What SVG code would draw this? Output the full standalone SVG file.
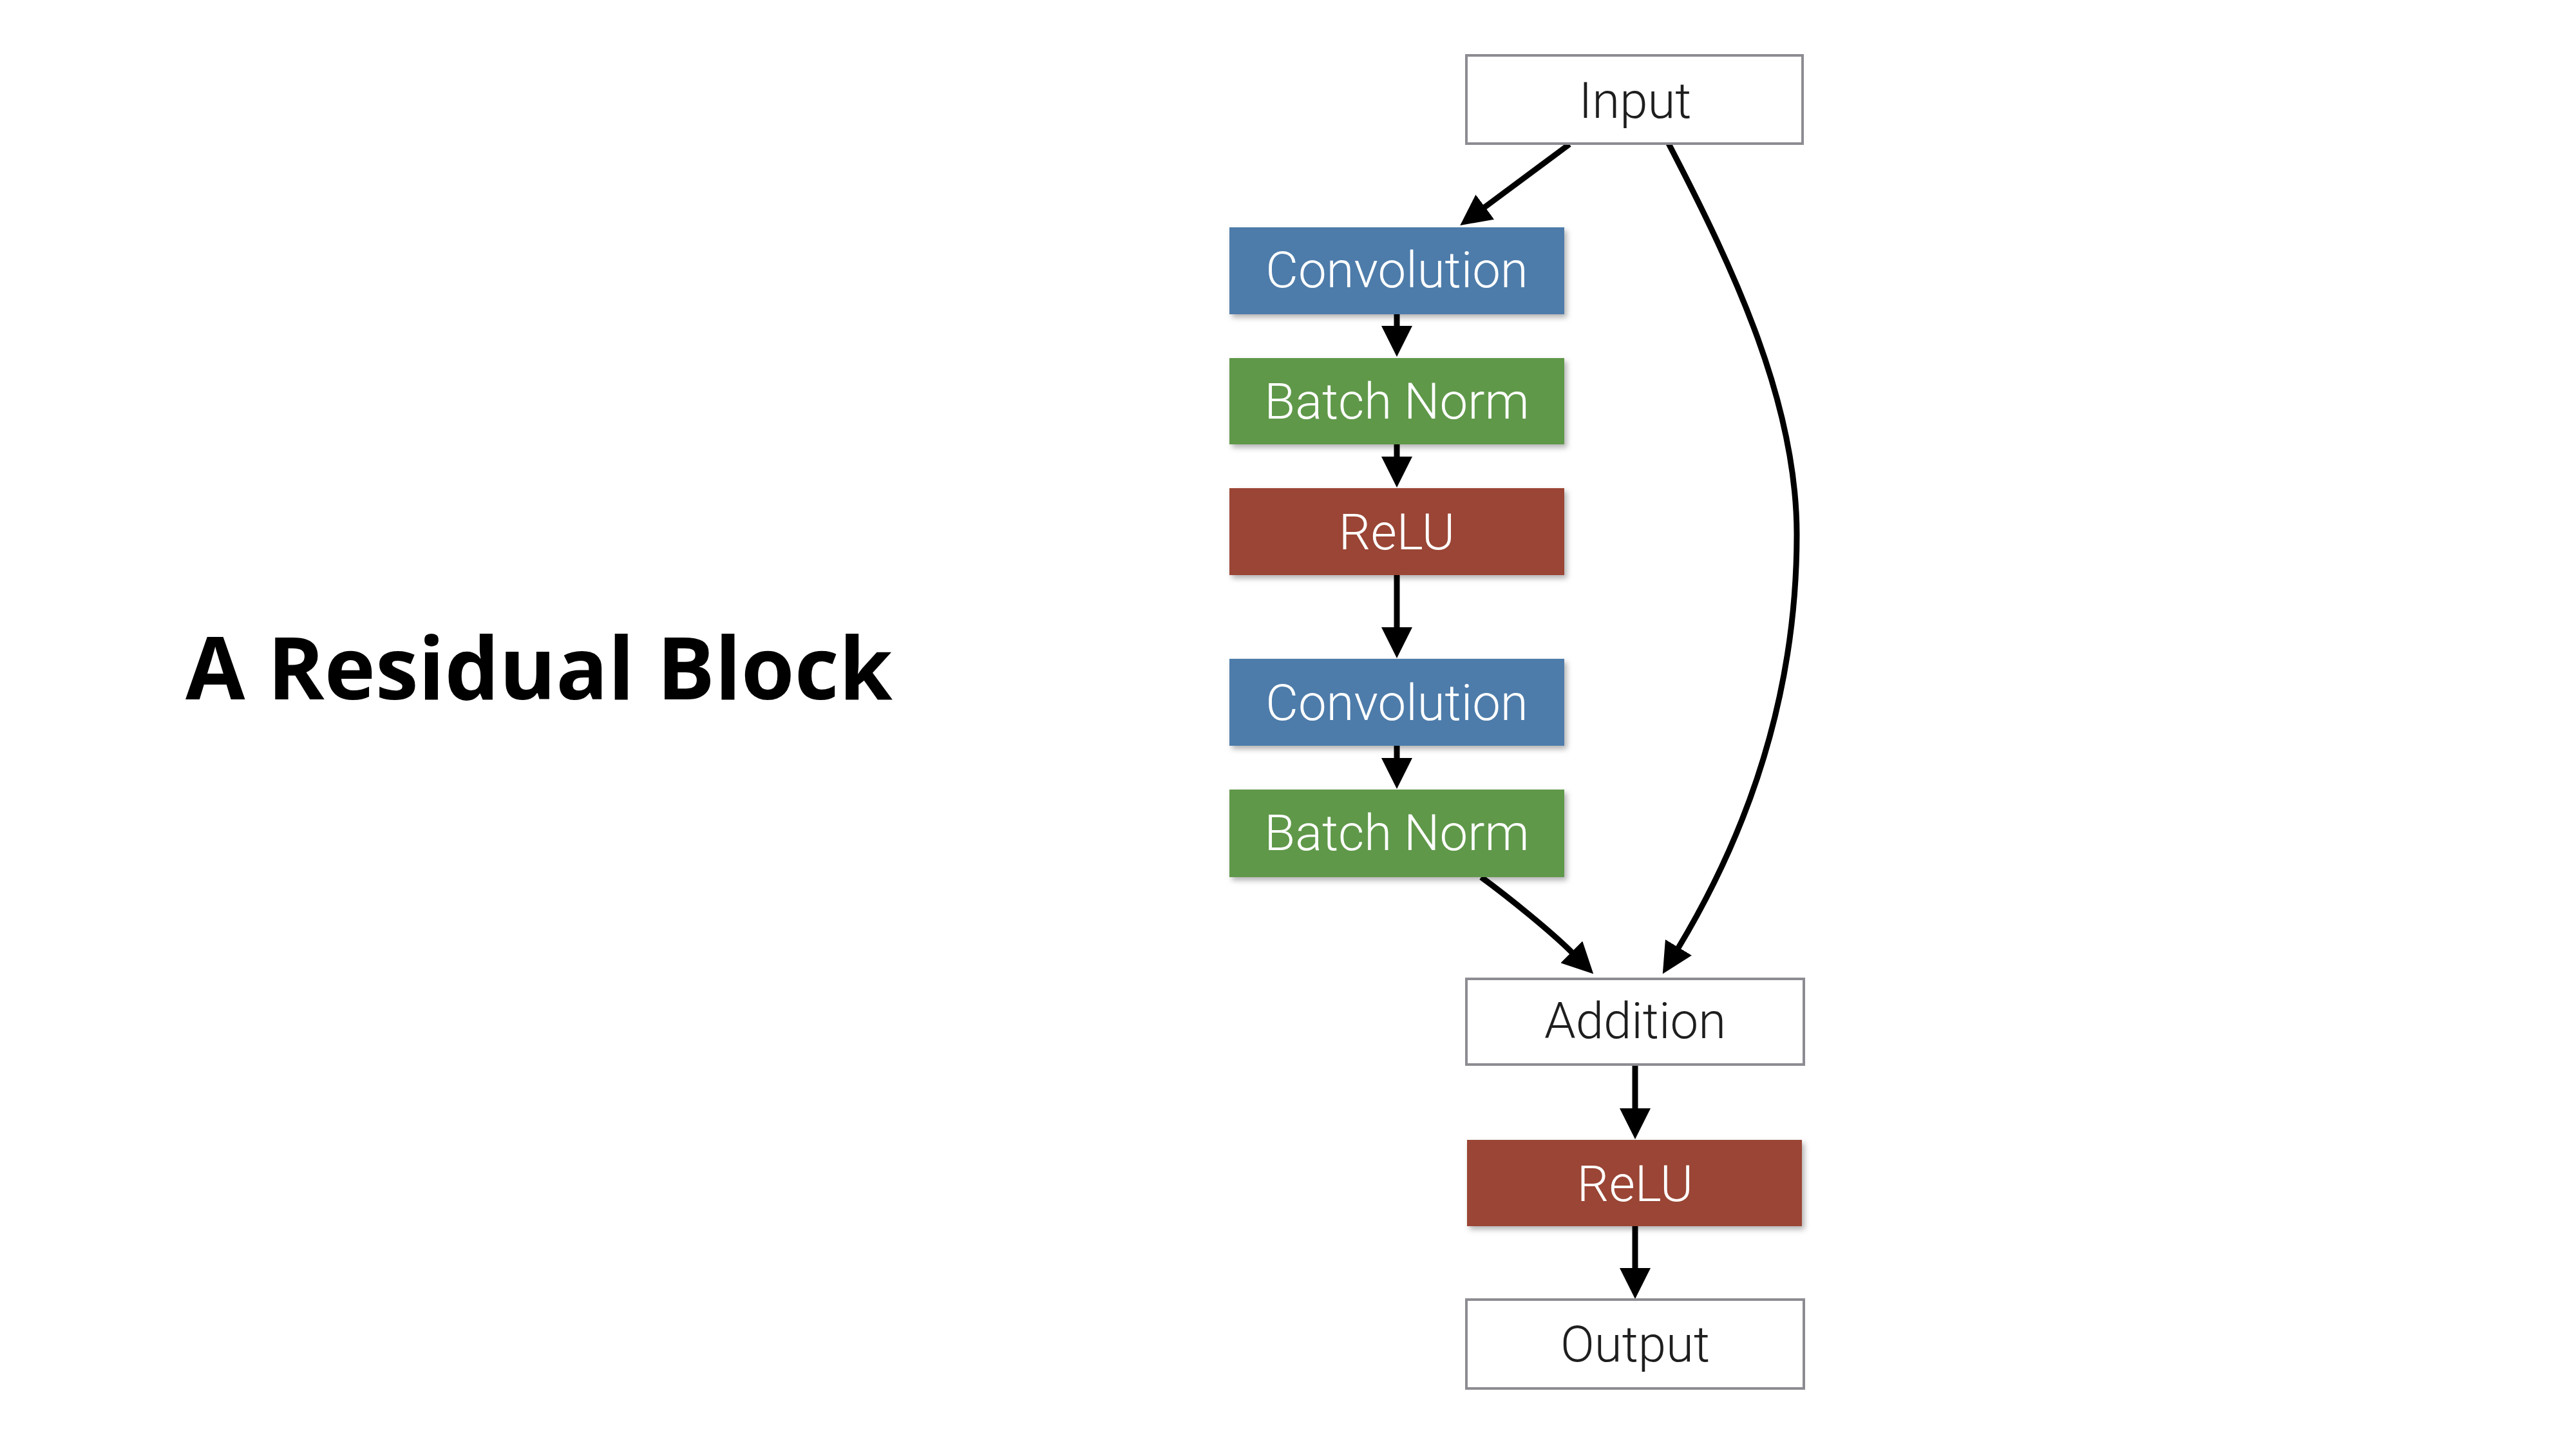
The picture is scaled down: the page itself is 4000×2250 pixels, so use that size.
<svg xmlns="http://www.w3.org/2000/svg" width="4000" height="2250" viewBox="0 0 4000 2250">
<style>
.lbl{font-family:Roboto,"Liberation Sans",Arial,sans-serif;font-weight:300;font-size:78px;text-anchor:middle}
.w{fill:#ffffff}
.d{fill:#1e1e1e}
.box{fill:#ffffff;stroke:#8c8c92;stroke-width:4}
.conv{fill:#4e7baa}
.bn{fill:#5f9848}
.relu{fill:#9a4535}
.c{fill:none;stroke:#000;stroke-width:9;marker-end:url(#ah)}
.title{font-family:"Open Sans","Liberation Sans",Arial,sans-serif;font-weight:700;font-size:134px;fill:#000}
</style>
<defs>
<marker id="ah" viewBox="0 0 48 48" refX="1" refY="24" markerWidth="48" markerHeight="48" orient="auto" markerUnits="userSpaceOnUse">
<path d="M0,0 L48,24 L0,48 z" fill="#000"/>
</marker>
<filter id="sh" x="-5%" y="-10%" width="115%" height="130%">
<feDropShadow dx="4" dy="5" stdDeviation="4" flood-color="#000" flood-opacity="0.3"/>
</filter>
</defs>
<rect width="4000" height="2250" fill="#ffffff"/>
<text id="title" class="title" x="288" y="1086">A Residual Block</text>
<g id="connectors">
<path class="c" d="M2437,224 L2305,322"/>
<path class="c" d="M2169,488 V507"/>
<path class="c" d="M2169,690 V710"/>
<path class="c" d="M2169,893 V975"/>
<path class="c" d="M2169,1158 V1178"/>
<path class="c" d="M2300,1362 C2345,1395 2410,1448 2441,1479"/>
<path class="c" d="M2591,223 C2696,425 2790,628 2790,830 C2790,1043 2734,1259 2606,1472"/>
<path class="c" d="M2539,1655 V1722"/>
<path class="c" d="M2539,1904 V1970"/>
</g>
<g id="input"><rect class="box" x="2277" y="86" width="522" height="137"/><text class="lbl d" x="2539" y="183">Input</text></g>
<g id="conv1"><rect class="conv" filter="url(#sh)" x="1909" y="353" width="520" height="135"/><text class="lbl w" x="2169" y="446">Convolution</text></g>
<g id="bn1"><rect class="bn" filter="url(#sh)" x="1909" y="556" width="520" height="134"/><text class="lbl w" x="2169" y="650">Batch Norm</text></g>
<g id="relu1"><rect class="relu" filter="url(#sh)" x="1909" y="758" width="520" height="135"/><text class="lbl w" x="2169" y="853">ReLU</text></g>
<g id="conv2"><rect class="conv" filter="url(#sh)" x="1909" y="1023" width="520" height="135"/><text class="lbl w" x="2169" y="1118">Convolution</text></g>
<g id="bn2"><rect class="bn" filter="url(#sh)" x="1909" y="1226" width="520" height="136"/><text class="lbl w" x="2169" y="1320">Batch Norm</text></g>
<g id="addition"><rect class="box" x="2277" y="1520" width="524" height="133"/><text class="lbl d" x="2539" y="1612">Addition</text></g>
<g id="relu2"><rect class="relu" filter="url(#sh)" x="2278" y="1770" width="520" height="134"/><text class="lbl w" x="2539" y="1865">ReLU</text></g>
<g id="output"><rect class="box" x="2277" y="2018" width="524" height="138"/><text class="lbl d" x="2539" y="2114">Output</text></g>
</svg>
